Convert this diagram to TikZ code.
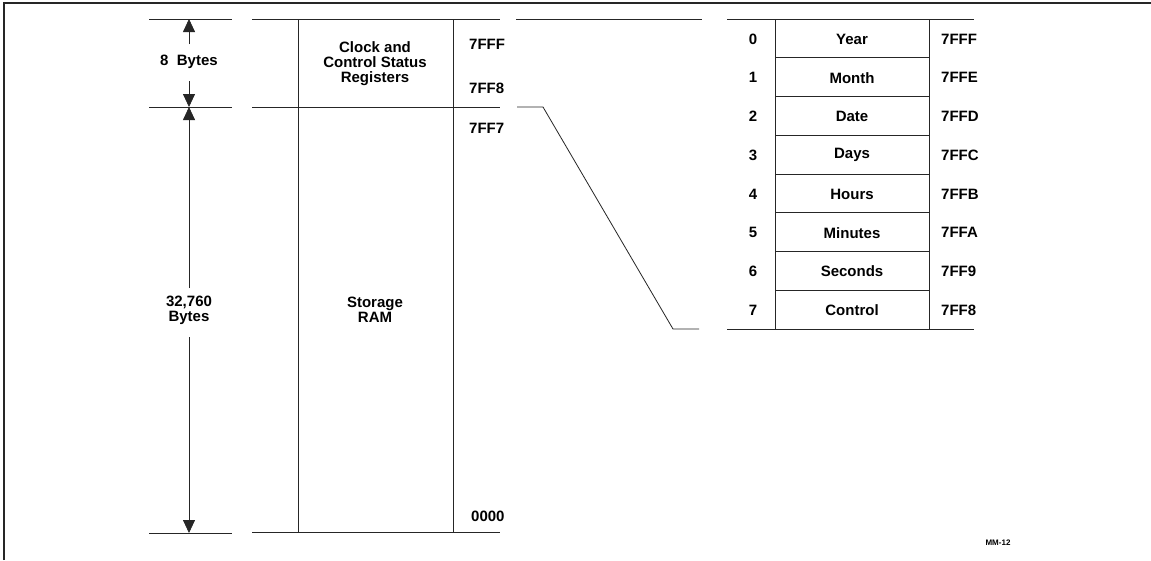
\documentclass[tikz,border=0pt]{standalone}
\usepackage{fontspec}
\setmainfont{Liberation Sans}
\usetikzlibrary{arrows.meta}
\begin{document}
\begin{tikzpicture}[x=1pt,y=-1pt,
  ln/.style={line width=0.8pt,black!85},
  frame/.style={line width=1.4pt,black!85},
  dim/.style={line width=0.8pt,black!85,-{Triangle[length=13pt,width=12pt]}},
  lbl/.style={font=\fontsize{15}{16}\selectfont\bfseries,inner sep=0pt,align=center},
  addr/.style={lbl,anchor=west},
  tiny/.style={font=\fontsize{8}{9}\selectfont\bfseries,inner sep=0pt}]
\useasboundingbox (0,0) rectangle (1151,560);
\fill[white] (0,0) rectangle (1151,560);
% frame (top and left)
\draw[frame] (4,560) -- (4,3) -- (1151,3);
% dimension ticks
\draw[ln] (149,19) -- (232,19);
\draw[ln] (149,107) -- (232,107);
\draw[ln] (149,533) -- (232,533);
% coordinates for dimension arrows
\coordinate (a1) at (189,19);
\coordinate (a1g) at (189,44);
\coordinate (a2g) at (189,81);
\coordinate (a2) at (189,107);
\coordinate (b1g) at (189,288);
\coordinate (b2g) at (189,337);
\coordinate (b2) at (189,533);
\draw[dim] (a1g) -- (a1);
\draw[dim] (a2g) -- (a2);
\draw[dim] (b1g) -- (a2);
\draw[dim] (b2g) -- (b2);
\node[lbl] (eight) at (189,62) {8\ \ Bytes};
\node[lbl] (big) at (189,310) {32,760\\[-1pt]Bytes};
% main column
\draw[ln] (252,19) -- (500,19);
\draw[ln] (252,107) -- (500,107);
\draw[ln] (252,532) -- (500,532);
\draw[ln] (298,19) -- (298,532);
\draw[ln] (453,19) -- (453,532);
\node[lbl] (clk) at (375,64) {Clock and\\[-1pt]Control Status\\[-1pt]Registers};
\node[lbl] (ram) at (375,310) {Storage\\[-1pt]RAM};
\node[addr] (m7fff) at (469,44) {7FFF};
\node[addr] (m7ff8) at (469,88) {7FF8};
\node[addr] (m7ff7) at (469,128) {7FF7};
\node[addr] (m0000) at (471,516) {0000};
% expansion lines
\draw[ln] (516,19) -- (702,19);
\coordinate (s1) at (517,107);
\coordinate (s2) at (543,107);
\coordinate (s3) at (673,329);
\coordinate (s4) at (699,329);
\draw[ln] (s1) -- (s2) -- (s3) -- (s4);
% register table
\draw[ln] (727,19) -- (974,19);
\draw[ln] (727,329) -- (974,329);
\draw[ln] (775,19) -- (775,329);
\draw[ln] (929,19) -- (929,329);
\foreach \k in {1,...,7} {
  \draw[ln] (775,19+38.75*\k) -- (929,19+38.75*\k);
}
\foreach \i/\name/\ad in {0/Year/7FFF,1/Month/7FFE,2/Date/7FFD,3/Days/7FFC,4/Hours/7FFB,5/Minutes/7FFA,6/Seconds/7FF9,7/Control/7FF8} {
  \node[lbl] (idx\i) at (753,19+38.75*\i+20) {\i};
  \node[lbl] (reg\i) at (852,19+38.75*\i+20) {\name};
  \node[addr] (ad\i) at (941,19+38.75*\i+20) {\ad};
}
\node[tiny] (mm) at (998,543) {MM-12};
\end{tikzpicture}
\end{document}
